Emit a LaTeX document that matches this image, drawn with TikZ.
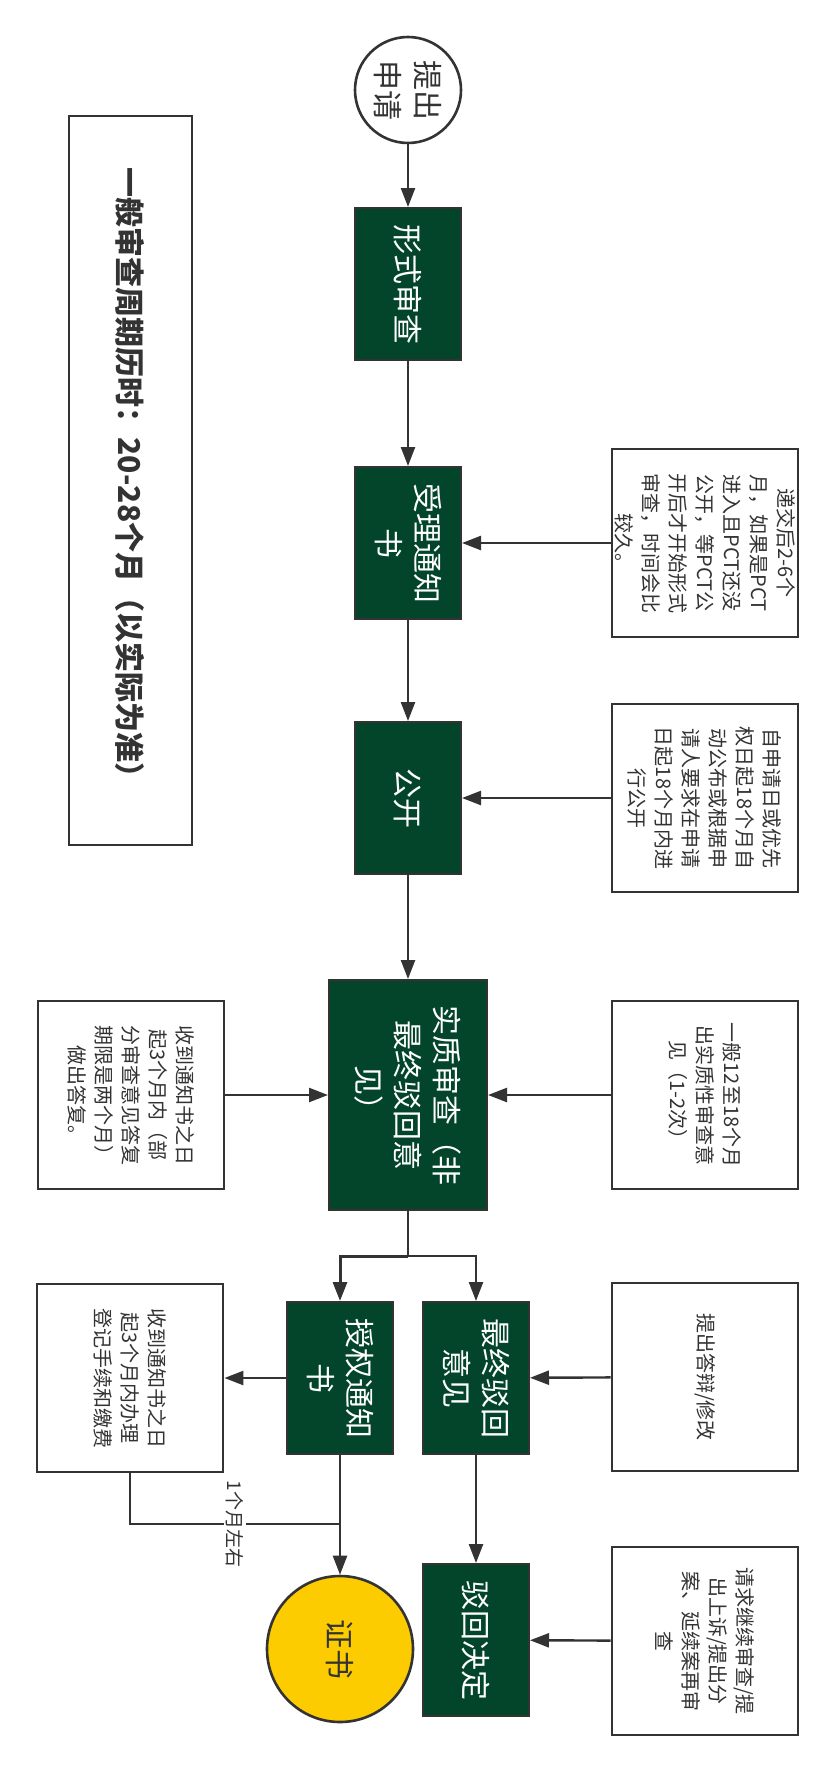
\documentclass[tikz,border=0pt]{standalone}
\usepackage{fontspec}
\setmainfont{Noto Sans CJK SC}
\usetikzlibrary{arrows.meta}
\definecolor{deepgreen}{HTML}{03452A}
\definecolor{linegray}{HTML}{333333}
\definecolor{certyellow}{HTML}{FCCC00}
\begin{document}
\begin{tikzpicture}[x=0.5pt,y=-0.5pt,
    greenbox/.style={draw=linegray, line width=1pt, fill=deepgreen, text=white, rotate=-90, align=center,
        minimum width=76pt, minimum height=53pt, inner sep=1pt, font=\fontsize{15}{19.5}\selectfont},
    notebox/.style={draw=linegray, line width=1.4pt, fill=white, text=linegray, rotate=-90, align=center,
        minimum width=94pt, minimum height=93pt, inner sep=1pt, font=\fontsize{10}{13.5}\selectfont},
    roundnode/.style={circle, draw=linegray, line width=1.3pt, text=linegray, rotate=-90, align=center,
        inner sep=0pt, font=\fontsize{15}{20}\selectfont},
    arr/.style={draw=linegray, line width=1.2pt, -{Triangle[length=9.5pt,width=7pt]}},
    lbl/.style={fill=white, text=linegray, rotate=-90, inner sep=1pt, font=\fontsize{9.5}{11}\selectfont}]
    \useasboundingbox (0,0) rectangle (836,1772);
    % title
    \node[draw=linegray, line width=1pt, rotate=-90, minimum width=364.5pt, minimum height=61.5pt,
        text=linegray, font=\fontsize{15}{18}\selectfont\bfseries] (title) at (130,480) {一般审查周期历时：20-28个月（以实际为准）};
    % main flow
    \node[roundnode, minimum size=53pt] (apply) at (408,90) {提出\\申请};
    \node[greenbox] (form) at (408,284) {形式审查};
    \node[greenbox] (accept) at (408,543) {受理通知\\书};
    \node[greenbox] (publish) at (408,798) {公开};
    \node[greenbox, minimum width=115pt, minimum height=79pt] (exam) at (408,1095) {实质审查（非\\最终驳回意\\见）};
    \node[greenbox] (grant) at (340,1378) {授权通知\\书};
    \node[greenbox] (reject) at (476,1378) {最终驳回\\意见};
    \node[greenbox] (decision) at (476,1640) {驳回决定};
    \node[roundnode, fill=certyellow, minimum size=73pt] (cert) at (340,1649) {证书};
    % notes
    \node[notebox] (n1) at (705,543) {递交后2-6个\\月，如果是PCT\\进入且PCT还没\\公开，等PCT公\\开后才开始形式\\审查，时间会比\\较久。};
    \node[notebox] (n2) at (705,798) {自申请日或优先\\权日起18个月自\\动公布或根据申\\请人要求在申请\\日起18个月内进\\行公开};
    \node[notebox] (n3) at (705,1095) {一般12至18个月\\出实质性审查意\\见（1-2次）};
    \node[notebox] (reply) at (131,1095) {收到通知书之日\\起3个月内（部\\分审查意见答复\\期限是两个月）\\做出答复。};
    \node[notebox] (n4) at (705,1377) {提出答辩/修改};
    \node[notebox] (reg) at (130,1378) {收到通知书之日\\起3个月内办理\\登记手续和缴费};
    \node[notebox] (n5) at (705,1641) {请求继续审查/提\\出上诉/提出分\\案、延续案再审\\查};
    % connectors
    \draw[arr] (apply) -- (form);
    \draw[arr] (form) -- (accept);
    \draw[arr] (accept) -- (publish);
    \draw[arr] (publish) -- (exam);
    \draw[arr] (n1) -- (accept);
    \draw[arr] (n2) -- (publish);
    \draw[arr] (n3) -- (exam);
    \draw[arr] (reply) -- (exam);
    \coordinate (split) at (408,1256);
    \draw[draw=linegray, line width=1.2pt] (exam) -- (split);
    \draw[arr, line width=1.5pt] (split) -| (grant);
    \draw[arr] (split) -| (reject);
    \draw[arr] (n4) -- (reject);
    \draw[arr] (reject) -- (decision);
    \draw[arr] (n5) -- (decision);
    \draw[arr] (grant) -- (reg);
    \draw[arr] (grant) -- (cert);
    \coordinate (join) at (340,1524);
    \draw[draw=linegray, line width=1.2pt] (reg) |- node[lbl, pos=0.75] {1个月左右} (join);
\end{tikzpicture}
\end{document}
